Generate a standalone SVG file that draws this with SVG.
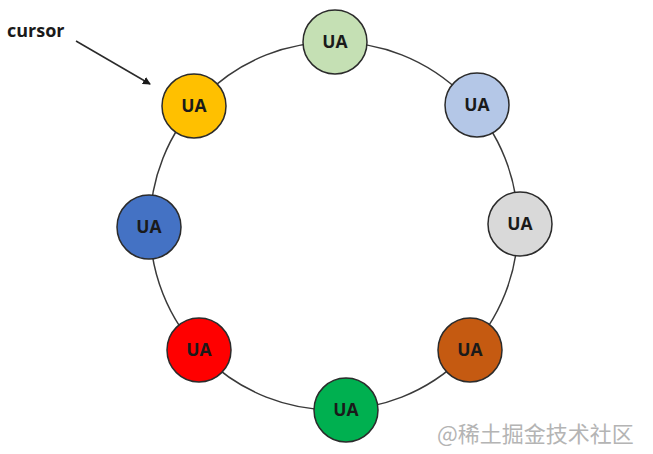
<svg xmlns="http://www.w3.org/2000/svg" width="653" height="454" viewBox="0 0 653 454">
<style>
.n{stroke:#2b2b2b;stroke-width:1.5}
.t{font-family:"Open Sans","Liberation Sans",sans-serif;font-weight:bold;font-size:17.5px;fill:#1a1a1a;text-anchor:middle}
.ring{fill:none;stroke:#3a3a3a;stroke-width:1.5}
</style>
<defs>
<marker id="ah" markerWidth="8" markerHeight="8" refX="7" refY="4" orient="auto" markerUnits="userSpaceOnUse">
<path d="M0,0 L8,4 L0,8 Z" fill="#1a1a1a"/>
</marker>
</defs>
<rect width="653" height="454" fill="#ffffff"/>
<g id="connectors">
<circle class="ring" cx="334" cy="226" r="184"/>
<line x1="76" y1="41" x2="150" y2="84" stroke="#2a2a2a" stroke-width="1.5" marker-end="url(#ah)"/>
</g>
<text x="7" y="37" font-family="Open Sans, Liberation Sans, sans-serif" font-weight="bold" font-size="18" fill="#1a1a1a">cursor</text>
<g id="n1"><circle class="n" cx="335" cy="42" r="32" fill="#C5E0B4"/><text class="t" x="335" y="48">UA</text></g>
<g id="n2"><circle class="n" cx="477" cy="105" r="32" fill="#B4C7E7"/><text class="t" x="477" y="111">UA</text></g>
<g id="n3"><circle class="n" cx="520" cy="224" r="32" fill="#D9D9D9"/><text class="t" x="520" y="230">UA</text></g>
<g id="n4"><circle class="n" cx="470" cy="350" r="32" fill="#C55A11"/><text class="t" x="470" y="356">UA</text></g>
<g id="n5"><circle class="n" cx="346" cy="410" r="32" fill="#00B050"/><text class="t" x="346" y="416">UA</text></g>
<g id="n6"><circle class="n" cx="199" cy="350" r="32" fill="#FF0000"/><text class="t" x="199" y="356">UA</text></g>
<g id="n7"><circle class="n" cx="149" cy="227" r="32" fill="#4472C4"/><text class="t" x="149" y="233">UA</text></g>
<g id="n8"><circle class="n" cx="194" cy="106" r="32" fill="#FFC000"/><text class="t" x="194" y="112">UA</text></g>
<text x="437" y="442" font-family="Noto Sans CJK SC, sans-serif" font-size="22" fill="#b4b4b4">@稀土掘金技术社区</text>
</svg>
